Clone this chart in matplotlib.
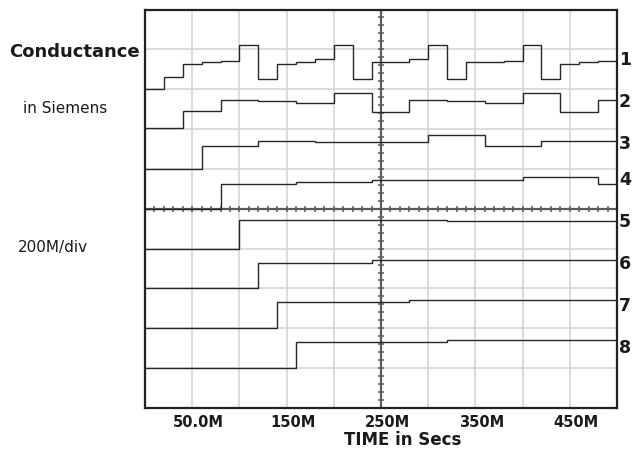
import numpy as np
import matplotlib
matplotlib.use("Agg")
import matplotlib.pyplot as plt
from matplotlib.transforms import ScaledTranslation, blended_transform_factory

# Time axis in units of M (0 .. 500M), vertical axis in screen divisions (0 .. 10)
trace1_edges = [0, 20, 40, 60, 80, 100, 120, 140, 160, 180, 200, 220, 240,
                260, 280, 300, 320, 340, 360, 380, 400, 420, 440, 460, 480, 500]
trace1_levels = [8.00, 8.30, 8.64, 8.68, 8.72, 9.10, 8.26, 8.64, 8.68, 8.77,
                 9.10, 8.26, 8.68, 8.68, 8.77, 9.10, 8.26, 8.68, 8.68, 8.72,
                 9.10, 8.26, 8.64, 8.68, 8.72]

trace2_edges = [0, 40, 80, 120, 160, 200, 240, 280, 320, 360, 400, 440, 480, 500]
trace2_levels = [7.02, 7.46, 7.74, 7.70, 7.65, 7.91, 7.42, 7.74, 7.70, 7.65,
                 7.91, 7.42, 7.74]

trace3_edges = [0, 60, 120, 180, 300, 360, 420, 500]
trace3_levels = [6.00, 6.57, 6.71, 6.68, 6.86, 6.57, 6.71]

trace4_edges = [0, 80, 160, 240, 400, 480, 500]
trace4_levels = [5.00, 5.61, 5.68, 5.72, 5.79, 5.61]

trace5_edges = [0, 100, 320, 500]
trace5_levels = [4.00, 4.71, 4.69]

trace6_edges = [0, 120, 240, 500]
trace6_levels = [3.00, 3.63, 3.71]

trace7_edges = [0, 140, 280, 500]
trace7_levels = [2.00, 2.67, 2.70]

trace8_edges = [0, 160, 320, 500]
trace8_levels = [1.00, 1.66, 1.71]

trace_names = ["1", "2", "3", "4", "5", "6", "7", "8"]
trace_label_y = [8.73, 7.68, 6.62, 5.72, 4.68, 3.61, 2.56, 1.51]

x_tick_values = [50, 150, 250, 350, 450]
x_tick_labels = ["50.0M", "150M", "250M", "350M", "450M"]

traces = [
    (trace1_edges, trace1_levels), (trace2_edges, trace2_levels),
    (trace3_edges, trace3_levels), (trace4_edges, trace4_levels),
    (trace5_edges, trace5_levels), (trace6_edges, trace6_levels),
    (trace7_edges, trace7_levels), (trace8_edges, trace8_levels),
]

plt.rcParams["font.family"] = ["DejaVu Sans"]

fig = plt.figure(figsize=(6.35, 4.5), dpi=100)
ax = fig.add_axes([145 / 635, 1 - 408 / 450, 472 / 635, 398.5 / 450])

ax.set_xlim(0, 500)
ax.set_ylim(0, 10)

# graticule: one line per division
for xv in np.arange(50, 500, 50):
    ax.axvline(xv, color="#d2d2d2", linewidth=1.1, zorder=0)
for yv in np.arange(1, 10, 1):
    ax.axhline(yv, color="#d2d2d2", linewidth=1.1, zorder=0)

ax.set_yticks([])
ax.set_xticks(x_tick_values)
ax.set_xticklabels(x_tick_labels, fontsize=10.5, fontweight="bold", color="#1a1a1a")
ax.tick_params(axis="x", which="both", length=0, pad=5)
shift = ScaledTranslation(6.5 / 100, 0, fig.dpi_scale_trans)
for lbl in ax.get_xticklabels():
    lbl.set_transform(lbl.get_transform() + shift)

ax.set_xlabel("TIME in Secs", fontsize=12, fontweight="bold", color="#1a1a1a")
ax.xaxis.set_label_coords((402.5 - 145) / 472, -0.058)

for sp in ax.spines.values():
    sp.set_linewidth(1.6)
    sp.set_color("#222222")

# centre cross-hair with minor division ticks
ax.axvline(250, color="#5a5a5a", linewidth=1.6, zorder=2)
ax.axhline(5, color="#5a5a5a", linewidth=1.6, zorder=2)
minor_t = np.arange(10, 500, 10)
ax.plot(minor_t, np.full(minor_t.shape, 5.0), linestyle="none", marker="|",
        markersize=5, markeredgewidth=1.1, color="#5a5a5a", zorder=2)
minor_v = np.arange(0.2, 10, 0.2)
ax.plot(np.full(minor_v.shape, 250.0), minor_v, linestyle="none", marker="_",
        markersize=4.5, markeredgewidth=1.1, color="#5a5a5a", zorder=2)

# conductance traces
for edges, levels in traces:
    ax.stairs(levels, edges, baseline=None, color="#262626", linewidth=1.0, zorder=3)

label_tr = blended_transform_factory(ax.transAxes, ax.transData) + \
    ScaledTranslation(2 / 100, 0, fig.dpi_scale_trans)
for name, y in zip(trace_names, trace_label_y):
    ax.text(1.0, y, name, transform=label_tr, ha="left", va="center",
            fontsize=12.5, fontweight="bold", color="#1a1a1a", clip_on=False)

fig.text(9 / 635, 1 - 56.7 / 450, "Conductance", ha="left", va="baseline",
         fontsize=13, fontweight="bold", color="#1a1a1a")
fig.text(23 / 635, 1 - 113.3 / 450, "in Siemens", ha="left", va="baseline",
         fontsize=11, color="#1a1a1a")
fig.text(17.5 / 635, 1 - 251.7 / 450, "200M/div", ha="left", va="baseline",
         fontsize=11, color="#1a1a1a")

fig.savefig("out.png", dpi=100)
